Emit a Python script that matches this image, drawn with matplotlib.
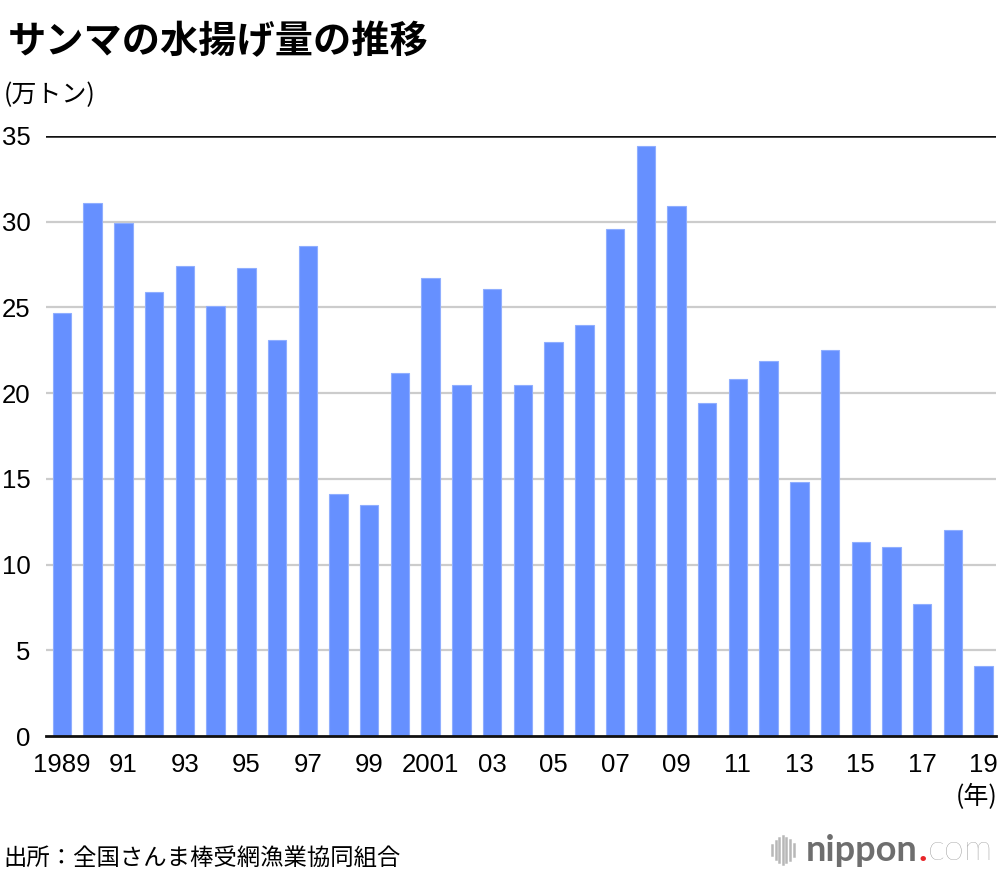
import matplotlib
matplotlib.use("Agg")
import matplotlib.pyplot as plt
from matplotlib.lines import Line2D

plt.rcParams['font.family'] = ['Noto Sans CJK JP', 'DejaVu Sans']

years = list(range(1989, 2020))
catch = [24.7, 31.1, 29.9, 25.9, 27.4, 25.1, 27.3, 23.1, 28.6, 14.1,
         13.5, 21.2, 26.7, 20.5, 26.1, 20.5, 23.0, 24.0, 29.6, 34.4,
         30.9, 19.4, 20.8, 21.9, 14.8, 22.5, 11.3, 11.0, 7.7, 12.0, 4.1]
tick_labels = ['1989', '91', '93', '95', '97', '99', '2001', '03', '05', '07',
               '09', '11', '13', '15', '17', '19']
yticks = [0, 5, 10, 15, 20, 25, 30, 35]

W, H = 1000, 880
fig = plt.figure(figsize=(W / 100, H / 100), dpi=100)
ax = fig.add_axes([0.046, 0.1636, 0.950, 0.6819])

x = list(range(len(years)))
ax.bar(x, catch, width=0.6, color='#6690FF', edgecolor='#8FAEFF', linewidth=0.8, zorder=3)

num_font = ['Liberation Sans', 'DejaVu Sans']
ax.set_ylim(0, 35)
ax.set_xlim(-0.52, len(years) - 1 + 0.4)
ax.set_yticks(yticks)
ax.set_yticklabels([str(v) for v in yticks], family=num_font, fontsize=18.5)
ax.set_xticks(x[::2])
ax.set_xticklabels(tick_labels, family=num_font, fontsize=18.5)
ax.tick_params(axis='x', length=0, pad=12)
ax.tick_params(axis='y', length=0, pad=11)

for v in yticks[1:-1]:
    ax.axhline(v, color='#cccccc', linewidth=1.6, zorder=1)
ax.axhline(35, color='#111111', linewidth=1.8, zorder=2)

for s in ['top', 'right', 'left']:
    ax.spines[s].set_visible(False)
ax.spines['bottom'].set_color('#111111')
ax.spines['bottom'].set_linewidth(2)
ax.spines['bottom'].set_zorder(4)

fig.text(0.008, 0.975, 'サンマの水揚げ量の推移', fontsize=27.5, fontweight='bold',
         ha='left', va='top')
fig.text(0.004, 0.892, '(万トン)', fontsize=18, ha='left', va='center')
fig.text(0.997, 0.094, '(年)', fontsize=18, ha='right', va='center')
fig.text(0.003, 0.025, '出所：全国さんま棒受網漁業協同組合', fontsize=16.8, ha='left', va='center')

# nippon.com logo
heights = [0.012, 0.020, 0.028, 0.032, 0.028, 0.022, 0.014]
for i, h in enumerate(heights):
    xx = (772 + i * 3.6) / W
    fig.add_artist(Line2D([xx, xx], [0.034 - h / 2, 0.034 + h / 2],
                          color='#b8b8b8', linewidth=1.8, transform=fig.transFigure))
renderer = fig.canvas.get_renderer()
ly = 0.034
t1 = fig.text(806 / W, ly, 'nippon', fontsize=26, fontweight='bold', color='#6e6e6e',
              family=['Lato', 'DejaVu Sans'], ha='left', va='center')
e1 = t1.get_window_extent(renderer)
t2 = fig.text(e1.x1 / W + 0.001, ly, '.', fontsize=26, fontweight='bold', color='#e8262a',
              family=['Lato', 'DejaVu Sans'], ha='left', va='center')
e2 = t2.get_window_extent(renderer)
fig.text(e2.x1 / W + 0.001, ly, 'com', fontsize=26, fontweight='light', color='#8a8a8a',
         family=['Lato', 'DejaVu Sans'], ha='left', va='center')

fig.savefig('out.png', dpi=100)
